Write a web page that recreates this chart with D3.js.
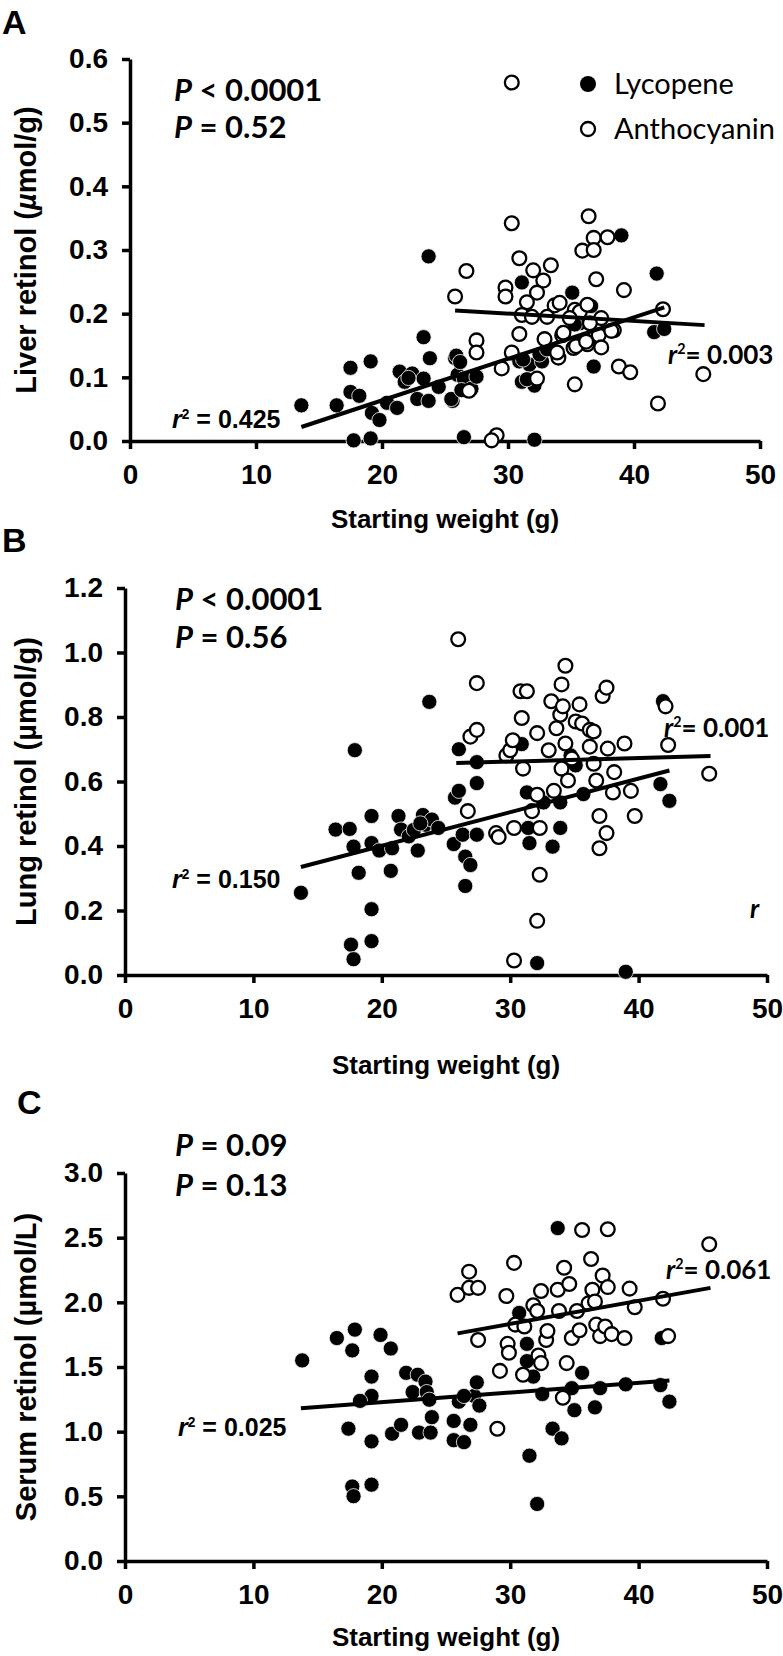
<!DOCTYPE html>
<html><head><meta charset="utf-8">
<script src="https://cdn.jsdelivr.net/npm/d3@7"></script>
<style>body{margin:0;background:#fff}svg{display:block}</style>
</head><body>
<svg id="chart" width="783" height="1656"></svg>
<script>
// ---------- data ----------
const xTicks = [0, 10, 20, 30, 40, 50];
const liverTicks = [0, 0.1, 0.2, 0.3, 0.4, 0.5, 0.6];
const lungTicks = [0, 0.2, 0.4, 0.6, 0.8, 1.0, 1.2];
const serumTicks = [0, 0.5, 1.0, 1.5, 2.0, 2.5, 3.0];

const liverLycopene = [[13.6,0.056],[16.4,0.056],[17.5,0.115],[17.5,0.077],[18.2,0.071],[17.75,0.001],[19.1,0.125],[19.1,0.004],[19.2,0.044],[19.8,0.033],[20.4,0.06],[21.2,0.052],[21.4,0.109],[21.8,0.093],[22.4,0.106],[22.8,0.066],[23.3,0.098],[23.3,0.163],[23.7,0.063],[23.7,0.29],[23.8,0.13],[24.5,0.085],[25.6,0.063],[25.8,0.13],[26.0,0.104],[26.5,0.006],[26.5,0.098],[27.1,0.082],[27.5,0.101],[25.9,0.134],[26.2,0.124],[25.5,0.066],[26.3,0.08],[31.1,0.249],[30.9,0.125],[31.1,0.093],[31.7,0.12],[32.1,0.087],[32.1,0.002],[32.7,0.125],[31.5,0.097],[31.2,0.128],[32.5,0.136],[33.1,0.144],[35.1,0.233],[35.7,0.185],[36.6,0.212],[36.8,0.117],[35.3,0.183],[39.0,0.323],[41.8,0.263],[41.6,0.171],[42.4,0.176],[22.1,0.099]];
const liverAnthocyanin = [[30.3,0.563],[36.4,0.353],[30.3,0.342],[35.9,0.299],[36.8,0.319],[36.8,0.30],[37.9,0.32],[30.9,0.287],[26.7,0.267],[32.0,0.268],[33.4,0.276],[32.8,0.252],[37.0,0.254],[39.2,0.237],[29.8,0.241],[29.8,0.227],[32.3,0.233],[25.8,0.227],[31.5,0.218],[33.7,0.213],[34.1,0.217],[35.3,0.206],[35.7,0.203],[36.3,0.214],[42.3,0.207],[31.1,0.198],[31.9,0.195],[33.1,0.195],[34.9,0.193],[37.4,0.193],[36.5,0.185],[38.4,0.174],[30.9,0.168],[32.9,0.160],[34.3,0.166],[36.1,0.158],[37.2,0.166],[37.4,0.147],[36.3,0.152],[35.2,0.146],[27.5,0.158],[27.5,0.139],[30.3,0.139],[34.0,0.131],[29.5,0.114],[32.3,0.098],[38.8,0.117],[39.7,0.108],[35.3,0.089],[45.5,0.105],[41.9,0.059],[26.9,0.079],[29.1,0.009],[28.7,0.001],[33.9,0.139],[34.4,0.17],[38.2,0.173],[35.4,0.149],[36.2,0.156]];
const liverTrendLycopene = [[13.6,0.022],[42.4,0.21]];
const liverTrendAnthocyanin = [[25.8,0.205],[45.6,0.182]];

const lungLycopene = [[13.7,0.255],[16.4,0.451],[17.5,0.453],[17.9,0.697],[17.6,0.094],[17.8,0.049],[17.8,0.398],[18.2,0.317],[19.2,0.493],[19.2,0.204],[19.2,0.105],[19.2,0.409],[19.8,0.386],[20.8,0.393],[20.7,0.323],[21.3,0.493],[21.5,0.451],[22.1,0.43],[22.8,0.386],[23.2,0.496],[23.4,0.466],[23.9,0.482],[24.4,0.456],[23.7,0.847],[25.6,0.406],[25.7,0.55],[26.0,0.571],[26.0,0.70],[26.3,0.435],[26.5,0.276],[26.5,0.367],[26.9,0.341],[27.4,0.595],[27.4,0.435],[27.4,0.66],[30.9,0.716],[31.3,0.566],[31.5,0.409],[31.4,0.456],[32.1,0.037],[32.6,0.535],[33.3,0.398],[33.9,0.456],[33.9,0.535],[34.7,0.681],[35.1,0.65],[35.7,0.561],[39.0,0.01],[41.7,0.592],[41.9,0.849],[42.4,0.54],[22.5,0.45],[23.0,0.47]];
const lungAnthocyanin = [[25.95,1.041],[27.4,0.905],[26.9,0.739],[27.4,0.76],[26.7,0.508],[28.9,0.44],[29.1,0.428],[29.7,0.681],[30.0,0.697],[30.2,0.728],[30.3,0.456],[30.3,0.045],[30.9,0.797],[31.0,0.64],[30.8,0.88],[31.3,0.88],[31.7,0.508],[32.1,0.75],[32.1,0.559],[32.3,0.456],[32.3,0.311],[32.1,0.168],[33.0,0.697],[33.2,0.849],[33.4,0.571],[33.6,0.765],[33.9,0.807],[34.0,0.901],[34.3,0.959],[34.1,0.833],[34.3,0.718],[34.0,0.64],[34.5,0.603],[34.8,0.671],[35.1,0.786],[35.4,0.839],[35.6,0.78],[36.2,0.76],[36.5,0.755],[36.2,0.708],[36.5,0.655],[36.7,0.603],[36.95,0.493],[36.95,0.393],[37.5,0.44],[37.2,0.865],[37.5,0.891],[37.6,0.702],[38.1,0.629],[38.0,0.566],[38.9,0.718],[39.4,0.571],[39.7,0.493],[42.1,0.833],[42.3,0.713],[45.5,0.624]];
const lungTrendLycopene = [[13.7,0.335],[42.4,0.634]];
const lungTrendAnthocyanin = [[25.8,0.657],[45.6,0.679]];

const serumLycopene = [[13.8,1.551],[16.5,1.724],[17.7,1.628],[17.9,1.789],[17.4,1.023],[17.7,0.576],[17.8,0.501],[19.2,1.426],[19.2,1.276],[18.3,1.238],[19.2,0.925],[19.2,0.59],[19.9,1.748],[20.7,1.643],[20.8,0.984],[21.5,1.053],[21.9,1.455],[22.4,1.306],[22.8,1.44],[22.9,0.993],[23.4,1.387],[23.5,1.306],[23.8,0.993],[23.9,1.112],[23.7,1.247],[25.6,1.083],[25.6,0.934],[26.0,1.232],[26.4,0.919],[26.9,1.053],[27.2,1.276],[27.4,1.381],[27.6,1.202],[26.4,1.276],[30.7,1.918],[31.3,1.679],[31.5,0.814],[31.8,1.426],[32.1,0.441],[32.5,1.291],[33.3,1.023],[34.0,0.948],[33.7,2.574],[34.8,1.336],[35.0,1.166],[35.6,1.455],[36.6,1.188],[37.0,1.336],[39.0,1.366],[41.7,1.36],[41.8,1.724],[42.4,1.232],[31.3,1.545]];
const serumAnthocyanin = [[25.9,2.058],[26.8,2.237],[26.8,2.112],[27.5,2.112],[27.5,1.709],[29.0,1.023],[29.2,1.47],[29.7,2.049],[29.8,1.679],[29.9,1.61],[30.3,2.305],[30.4,1.828],[31.0,1.44],[31.1,1.813],[31.8,1.977],[32.1,1.933],[32.2,1.589],[32.4,1.53],[32.4,2.088],[32.8,1.709],[32.9,1.778],[33.7,2.097],[33.8,1.933],[34.2,2.267],[34.1,1.262],[34.4,1.53],[34.6,2.142],[34.8,1.724],[35.2,1.933],[35.4,1.784],[35.6,2.559],[36.1,1.992],[36.3,2.335],[36.4,2.097],[36.6,2.007],[36.7,1.828],[37.0,1.739],[37.2,2.207],[37.6,2.565],[37.6,2.118],[37.4,1.813],[37.9,1.754],[38.9,1.724],[39.3,2.106],[39.7,1.962],[41.9,2.028],[42.3,1.739],[45.5,2.449]];
const serumTrendLycopene = [[13.7,1.181],[42.4,1.396]];
const serumTrendAnthocyanin = [[25.9,1.76],[45.6,2.112]];

const seriesNames = ["Lycopene", "Anthocyanin"];

// ---------- drawing ----------
const svg = d3.select("#chart");
const AX = "Liberation Sans, Arial, sans-serif";
const CAL = "Lato, 'Open Sans', sans-serif";

function richText(g, x, y, parts, size, family, weight) {
  const t = g.append("text").attr("x", x).attr("y", y)
    .attr("font-family", family).attr("font-size", size)
    .attr("font-weight", weight || "bold").attr("fill", "#000");
  parts.forEach(p => {
    const ts = t.append("tspan").text(p.t);
    if (p.i) ts.attr("font-style", "italic");
    if (p.sup) ts.attr("font-size", size * 0.55).attr("dy", -size * 0.38);
    if (p.down) ts.attr("dy", size * 0.38);
  });
  return t;
}

function panel(cfg) {
  const g = svg.append("g");
  const x = d3.scaleLinear().domain([0, 50]).range([cfg.x0, cfg.x1]);
  const y = d3.scaleLinear().domain([0, cfg.yMax]).range([cfg.y0, cfg.y1]);

  g.append("text").attr("x", cfg.letterX).attr("y", cfg.letterY)
    .attr("font-family", AX).attr("font-weight", "bold").attr("font-size", 34).text(cfg.letter);

  const xa = g.append("g").attr("transform", `translate(0,${cfg.y0})`)
    .call(d3.axisBottom(x).tickValues(xTicks).tickFormat(d3.format("d")).tickSize(8).tickSizeOuter(0).tickPadding(15));
  const ya = g.append("g").attr("transform", `translate(${cfg.x0},0)`)
    .call(d3.axisLeft(y).tickValues(cfg.ticks).tickFormat(d3.format(".1f")).tickSize(8).tickSizeOuter(0).tickPadding(14));
  [xa, ya].forEach(a => {
    a.select(".domain").attr("stroke", "#000").attr("stroke-width", 3.5);
    a.selectAll(".tick line").attr("stroke", "#000").attr("stroke-width", 3.5);
    a.selectAll(".tick text").attr("font-family", AX).attr("font-weight", "bold")
      .attr("font-size", 28).attr("fill", "#000");
  });

  g.append("text").attr("x", (cfg.x0 + cfg.x1) / 2).attr("y", cfg.xTitleY)
    .attr("text-anchor", "middle").attr("font-family", AX).attr("font-weight", "bold")
    .attr("font-size", 26).text("Starting weight (g)");
  const yt = g.append("text").attr("transform", `translate(${cfg.yTitleX},${(cfg.y0 + cfg.y1) / 2}) rotate(-90)`)
    .attr("text-anchor", "middle").attr("font-family", AX).attr("font-weight", "bold").attr("font-size", 29);
  cfg.yTitle.forEach(p => { const s = yt.append("tspan").text(p.t); if (p.i) s.attr("font-style", "italic"); });

  const r = 7.6;
  g.append("g").selectAll("circle").data(cfg.lyco).join("circle")
    .attr("cx", d => x(d[0])).attr("cy", d => y(d[1])).attr("r", r)
    .attr("fill", "#000").attr("stroke", "#fff").attr("stroke-width", 0.8);
  g.append("g").selectAll("circle").data(cfg.antho).join("circle")
    .attr("cx", d => x(d[0])).attr("cy", d => y(d[1])).attr("r", r - 0.7)
    .attr("fill", "#fff").attr("stroke", "#000").attr("stroke-width", 2.3);

  const line = d3.line().x(d => x(d[0])).y(d => y(d[1]));
  [cfg.trendL, cfg.trendA].forEach(t => {
    g.append("path").attr("d", line(t)).attr("fill", "none").attr("stroke", "#000").attr("stroke-width", 4);
  });

  cfg.pTexts.forEach((p, i) => richText(g, cfg.pX, cfg.pY[i], p, 31, CAL));
  cfg.r2.forEach(l => richText(g, l.x, l.y, l.parts, l.size, l.font));
  return {g, x, y};
}

const A = panel({
  letter: "A", letterX: 2, letterY: 34,
  x0: 130, x1: 760, y0: 441, y1: 59, yMax: 0.6, ticks: liverTicks,
  xTitleY: 528, yTitleX: 36,
  yTitle: [{t: "Liver retinol ("}, {t: "µ", i: true}, {t: "mol/g)"}],
  lyco: liverLycopene, antho: liverAnthocyanin,
  trendL: liverTrendLycopene, trendA: liverTrendAnthocyanin,
  pX: 174, pY: [101, 138],
  pTexts: [[{t: "P", i: true}, {t: "  < 0.0001"}], [{t: "P", i: true}, {t: "  = 0.52"}]],
  r2: [
    {x: 172, y: 428, size: 25, font: AX, parts: [{t: "r", i: true}, {t: "2", sup: true}, {t: " = 0.425", down: true}]},
    {x: 668, y: 364, size: 26, font: CAL, parts: [{t: "r", i: true}, {t: "2", sup: true}, {t: "= 0.003", down: true}]}
  ]
});
const leg = A.g.append("g");
seriesNames.forEach((n, i) => {
  const cy = 84 + i * 45;
  leg.append("circle").attr("cx", 588).attr("cy", cy).attr("r", i === 0 ? 8 : 7)
    .attr("fill", i === 0 ? "#000" : "#fff").attr("stroke", "#000").attr("stroke-width", i === 0 ? 0 : 2.3);
  leg.append("text").attr("x", 614).attr("y", cy + 10).attr("font-family", CAL)
    .attr("font-size", 29).attr("fill", "#000").text(n);
});

const B = panel({
  letter: "B", letterX: 2, letterY: 552,
  x0: 125, x1: 767, y0: 975, y1: 588, yMax: 1.2, ticks: lungTicks,
  xTitleY: 1074, yTitleX: 36,
  yTitle: [{t: "Lung retinol (µmol/g)"}],
  lyco: lungLycopene, antho: lungAnthocyanin,
  trendL: lungTrendLycopene, trendA: lungTrendAnthocyanin,
  pX: 175, pY: [610, 648],
  pTexts: [[{t: "P", i: true}, {t: " < 0.0001"}], [{t: "P", i: true}, {t: " = 0.56"}]],
  r2: [
    {x: 172, y: 888, size: 25, font: AX, parts: [{t: "r", i: true}, {t: "2", sup: true}, {t: " = 0.150", down: true}]},
    {x: 664, y: 737, size: 26, font: CAL, parts: [{t: "r", i: true}, {t: "2", sup: true}, {t: "= 0.001", down: true}]},
    {x: 750, y: 918, size: 26, font: CAL, parts: [{t: "r", i: true}]}
  ]
});

const C = panel({
  letter: "C", letterX: 17, letterY: 1114,
  x0: 125, x1: 767, y0: 1561, y1: 1173, yMax: 3.0, ticks: serumTicks,
  xTitleY: 1646, yTitleX: 36,
  yTitle: [{t: "Serum retinol (µmol/L)"}],
  lyco: serumLycopene, antho: serumAnthocyanin,
  trendL: serumTrendLycopene, trendA: serumTrendAnthocyanin,
  pX: 175, pY: [1156, 1196],
  pTexts: [[{t: "P", i: true}, {t: " = 0.09"}], [{t: "P", i: true}, {t: " = 0.13"}]],
  r2: [
    {x: 178, y: 1436, size: 25, font: AX, parts: [{t: "r", i: true}, {t: "2", sup: true}, {t: " = 0.025", down: true}]},
    {x: 666, y: 1279, size: 26, font: CAL, parts: [{t: "r", i: true}, {t: "2", sup: true}, {t: "= 0.061", down: true}]}
  ]
});
</script>
</body></html>
